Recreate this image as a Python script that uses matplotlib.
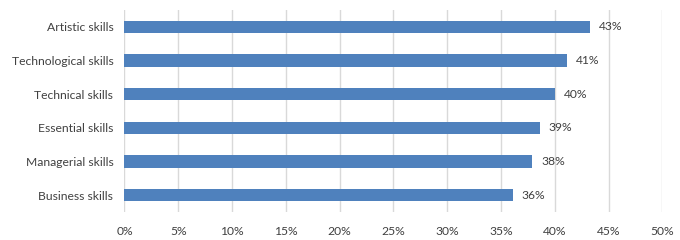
import matplotlib.pyplot as plt
import numpy as np

# dados (de baixo para cima)
categorias = ['Business skills', 'Managerial skills', 'Essential skills',
              'Technical skills', 'Technological skills', 'Artistic skills']
valores = [36.1, 37.9, 38.6, 40.0, 41.1, 43.3]
rotulos = ['36%', '38%', '39%', '40%', '41%', '43%']
ticks_x = [0, 5, 10, 15, 20, 25, 30, 35, 40, 45, 50]

plt.rcParams['font.family'] = ['Lato', 'DejaVu Sans']

fig = plt.figure(figsize=(6.8, 2.4), dpi=100)
ax = fig.add_axes([0.183, 0.117, 0.791, 0.841])

y = np.arange(len(categorias))
ax.barh(y, valores, height=0.36, color='#4F81BD', zorder=3)

for yi, v, r in zip(y, valores, rotulos):
    ax.annotate(r, (v, yi), xytext=(6.5, 0), textcoords='offset points',
                va='center', ha='left', fontsize=8.7, color='#404040')

ax.set_xlim(0, 50)
ax.set_ylim(-0.5, len(categorias) - 0.5)
ax.set_xticks(ticks_x)
ax.set_xticklabels([f'{t}%' for t in ticks_x])
ax.set_yticks(y)
ax.set_yticklabels(categorias)

ax.grid(axis='x', color='#D9D9D9', linewidth=1, zorder=0)
for s in ax.spines.values():
    s.set_visible(False)
ax.tick_params(axis='both', length=0, labelsize=8.7, labelcolor='#404040')
ax.tick_params(axis='x', pad=10)
ax.tick_params(axis='y', pad=8)

fig.savefig('out.png', dpi=100)
